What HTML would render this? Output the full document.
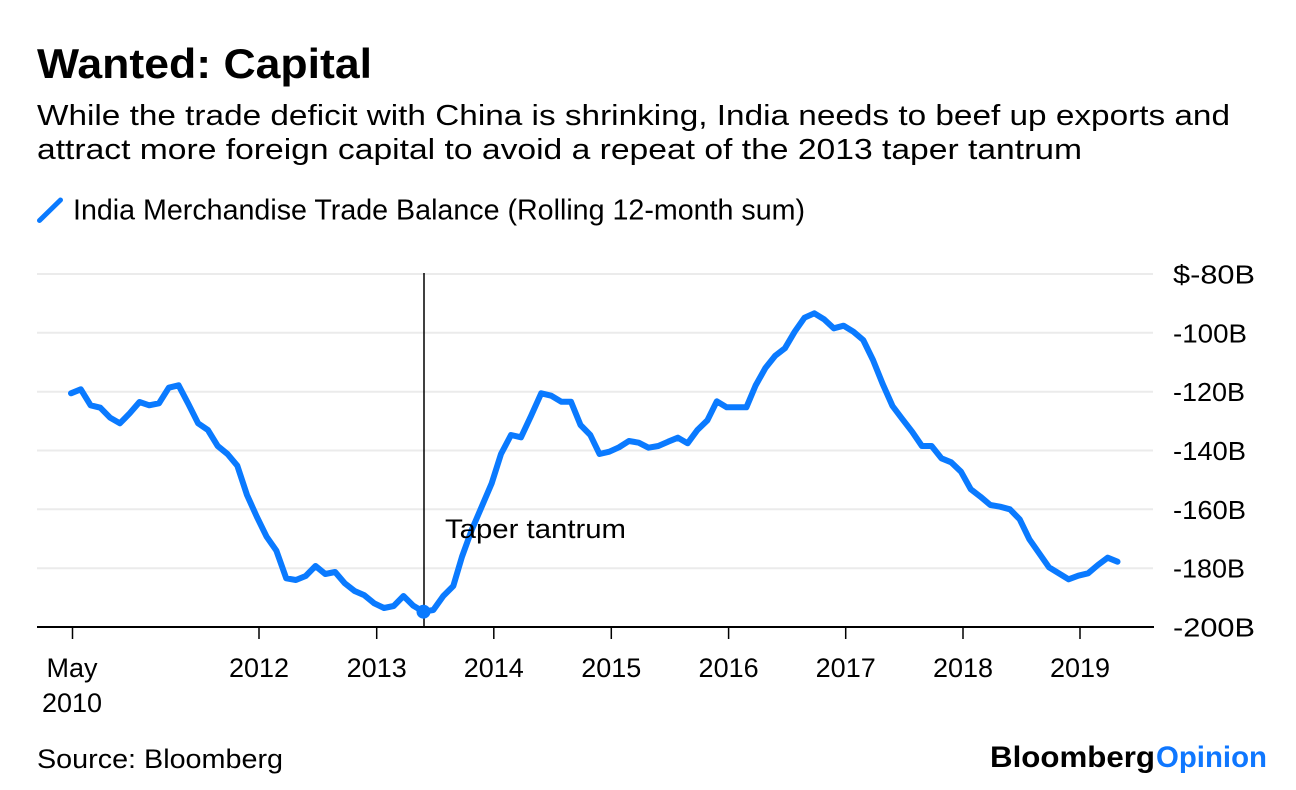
<!DOCTYPE html>
<html>
<head>
<meta charset="utf-8">
<style>
  html, body { margin: 0; padding: 0; background: #fff; }
  svg { display: block; }
  text { font-family: "Liberation Sans", Arial, sans-serif; fill: #000; }
</style>
</head>
<body>
<svg width="1296" height="790" viewBox="0 0 1296 790" xmlns="http://www.w3.org/2000/svg">
  <rect x="0" y="0" width="1296" height="790" fill="#fff"/>

  <!-- Title & subtitle -->
  <text x="37" y="78" font-size="42" font-weight="bold" textLength="335" lengthAdjust="spacingAndGlyphs">Wanted: Capital</text>
  <text x="37" y="125" font-size="29" textLength="1193" lengthAdjust="spacingAndGlyphs">While the trade deficit with China is shrinking, India needs to beef up exports and</text>
  <text x="37" y="159" font-size="29" textLength="1045" lengthAdjust="spacingAndGlyphs">attract more foreign capital to avoid a repeat of the 2013 taper tantrum</text>

  <!-- Legend -->
  <line x1="39.5" y1="220.5" x2="60.5" y2="200" stroke="#0a7aff" stroke-width="5" stroke-linecap="round"/>
  <text x="73" y="219.5" font-size="29" textLength="732" lengthAdjust="spacingAndGlyphs">India Merchandise Trade Balance (Rolling 12-month sum)</text>

  <!-- Gridlines -->
  <g stroke="#ebebeb" stroke-width="2">
    <line x1="37" y1="274" x2="1153" y2="274"/>
    <line x1="37" y1="332.8" x2="1153" y2="332.8"/>
    <line x1="37" y1="391.7" x2="1153" y2="391.7"/>
    <line x1="37" y1="450.5" x2="1153" y2="450.5"/>
    <line x1="37" y1="509.3" x2="1153" y2="509.3"/>
    <line x1="37" y1="568.2" x2="1153" y2="568.2"/>
  </g>

  <!-- Y labels -->
  <g font-size="26">
    <text x="1173" y="283.5" textLength="82" lengthAdjust="spacingAndGlyphs">$-80B</text>
    <text x="1173" y="342.3" textLength="74" lengthAdjust="spacingAndGlyphs">-100B</text>
    <text x="1173" y="401.2" textLength="72" lengthAdjust="spacingAndGlyphs">-120B</text>
    <text x="1173" y="460" textLength="73" lengthAdjust="spacingAndGlyphs">-140B</text>
    <text x="1173" y="518.8" textLength="73" lengthAdjust="spacingAndGlyphs">-160B</text>
    <text x="1173" y="577.7" textLength="72" lengthAdjust="spacingAndGlyphs">-180B</text>
    <text x="1173" y="636.5" textLength="82" lengthAdjust="spacingAndGlyphs">-200B</text>
  </g>

  <!-- Taper tantrum vertical line -->
  <line x1="424" y1="273" x2="424" y2="627" stroke="#000" stroke-width="1.5"/>

  <!-- Series -->
  <polyline fill="none" stroke="#0a7aff" stroke-width="6" stroke-linejoin="round" stroke-linecap="round"
    points="
71,393.3 80.8,389.3 90.6,405.3 100.3,407.7 110.1,417.7 119.9,423.3 129.7,413.3 139.5,402 149.2,405.3 159,403.3
168.8,387.7 178.6,385.3 188.4,404 198.1,423.3 207.9,430 217.7,446 227.5,454 237.3,465.7 247,495 256.8,516.7
266.6,536.7 276.4,550.7 286.2,578.3 295.9,580 305.7,576 315.5,566 325.3,574 335.1,572 344.8,583.3 354.6,591
364.4,595.3 374.2,603.3 384,608 393.7,606 403.5,596 413.3,605.7 423.3,611.7 433.3,610 443.3,596 453.3,586
462,556.7 471.7,530 481.7,506.7 491.7,483.3 501,454 511,435 521,437.3 531,416 541.2,393.3 551.2,395.7
561.2,401.7 571,401.7 580.5,425 590.3,435 599.5,454 609.3,451.7 619,447.3 628.9,441 638.7,442.7 648.5,447.7
658.3,446 668.1,441.7 677.9,437.7 687.6,443.3 697.4,430 707.4,420.3 716.8,401.3 726.7,407.3 736.6,407.3 746.4,407.3
755.6,385.5 765.4,368 775.2,355.7 784.9,348.3 794.7,331.7 804.5,317.7 814.3,313.3 824.1,319.3 833.8,328.3 843.6,325.7
853.4,331.7 863.2,340 873,360 882.7,384 892.5,406 902.3,419 912.1,431.7 921.9,446 931.6,446 941.4,458.3
951.2,462.3 961,471.7 970.8,489.3 980.5,496.7 990.3,505 1000.1,506.7 1009.9,509.3 1019.7,519.3 1029.4,539.3 1039.2,553.3
1049,567.3 1058.8,573.3 1068.6,579.3 1078.3,575.7 1088.1,573.3 1097.9,565 1107.7,557.7 1117.5,561.7"/>
  <circle cx="423.5" cy="611.7" r="7" fill="#0a7aff"/>

  <!-- Taper tantrum label -->
  <text x="445" y="538" font-size="27" textLength="181" lengthAdjust="spacingAndGlyphs">Taper tantrum</text>

  <!-- X axis -->
  <line x1="37" y1="627" x2="1154" y2="627" stroke="#000" stroke-width="2"/>
  <g stroke="#000" stroke-width="1.5">
    <line x1="72.5" y1="627" x2="72.5" y2="639"/>
    <line x1="259" y1="627" x2="259" y2="639"/>
    <line x1="376.7" y1="627" x2="376.7" y2="639"/>
    <line x1="493.8" y1="627" x2="493.8" y2="639"/>
    <line x1="611.3" y1="627" x2="611.3" y2="639"/>
    <line x1="728.6" y1="627" x2="728.6" y2="639"/>
    <line x1="845.7" y1="627" x2="845.7" y2="639"/>
    <line x1="963" y1="627" x2="963" y2="639"/>
    <line x1="1080" y1="627" x2="1080" y2="639"/>
  </g>
  <g font-size="27" text-anchor="middle">
    <text x="72" y="677">May</text>
    <text x="72" y="712">2010</text>
    <text x="259" y="677">2012</text>
    <text x="376.7" y="677">2013</text>
    <text x="493.8" y="677">2014</text>
    <text x="611.3" y="677">2015</text>
    <text x="728.6" y="677">2016</text>
    <text x="845.7" y="677">2017</text>
    <text x="963" y="677">2018</text>
    <text x="1080" y="677">2019</text>
  </g>

  <!-- Footer -->
  <text x="37" y="768" font-size="27" textLength="246" lengthAdjust="spacingAndGlyphs">Source: Bloomberg</text>
  <text x="990" y="767" font-size="30" font-weight="bold" textLength="165" lengthAdjust="spacingAndGlyphs">Bloomberg</text>
  <text x="1156" y="767" font-size="30" font-weight="bold" textLength="111" lengthAdjust="spacingAndGlyphs" style="fill:#0f77ff">Opinion</text>
</svg>
</body>
</html>
